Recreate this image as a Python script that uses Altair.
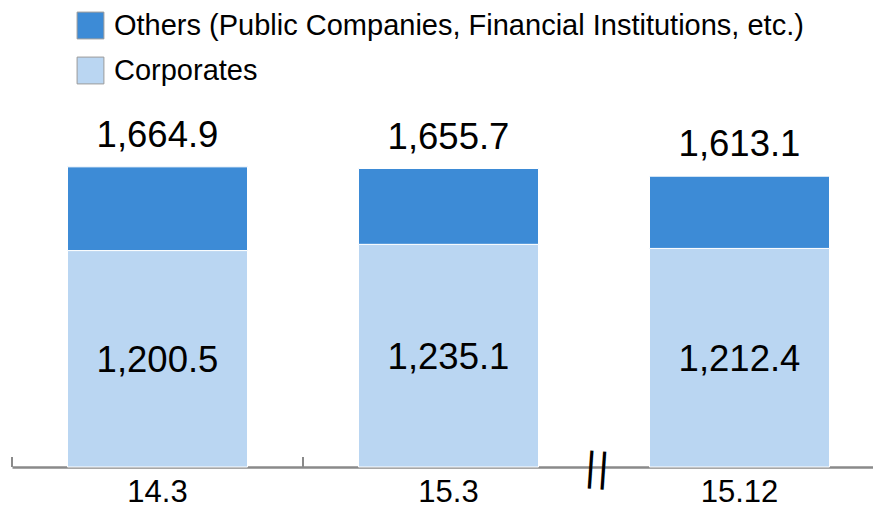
import altair as alt
import pandas as pd

categories = ["14.3", "15.3", "15.12"]
corporates = [1200.5, 1235.1, 1212.4]
totals = [1664.9, 1655.7, 1613.1]
others = [round(t - c, 1) for t, c in zip(totals, corporates)]
series_names = ["Others (Public Companies, Financial Institutions, etc.)", "Corporates"]
colors = ["#3D8BD6", "#BAD6F2"]

rows = []
for i, cat in enumerate(categories):
    rows.append({"cat": cat, "series": series_names[1], "value": corporates[i], "ord": 0})
    rows.append({"cat": cat, "series": series_names[0], "value": others[i], "ord": 1})
df = pd.DataFrame(rows)
df_tot = pd.DataFrame({"cat": categories, "total": totals})
df_corp = pd.DataFrame({"cat": categories, "value": corporates})
df_ticks = pd.DataFrame({"cat": categories[:2]})
df_break = pd.DataFrame({"cat": categories[2:]})

FONT = "Liberation Sans"
H = 459
xscale = alt.Scale(domain=categories, range=[0, 873], paddingInner=0, paddingOuter=0)
yscale = alt.Scale(domain=[0, 2546])

bars = alt.Chart(df).mark_bar(size=180, stroke="white", strokeWidth=1).encode(
    x=alt.X("cat:N", scale=xscale, sort=categories,
            axis=alt.Axis(title=None, ticks=False, labelAngle=0, labelFont=FONT,
                          labelFontSize=31, labelColor="#000", labelPadding=10,
                          domainColor="#8a8a8a", domainWidth=2.5)),
    y=alt.Y("value:Q", scale=yscale, stack="zero", axis=None),
    color=alt.Color("series:N", scale=alt.Scale(domain=series_names, range=colors),
                    legend=alt.Legend(title=None, orient="none", legendX=64, legendY=3,
                                      symbolType="square", symbolSize=720,
                                      symbolStrokeColor="#9a9a9a", symbolStrokeWidth=1,
                                      labelFont=FONT, labelFontSize=29, labelColor="#000",
                                      labelOffset=9, rowPadding=14, padding=0,
                                      labelLimit=900)),
    order=alt.Order("ord:Q"),
)

tot_text = alt.Chart(df_tot).mark_text(font=FONT, fontSize=36.5, color="#000",
                                       baseline="alphabetic", dy=-20).encode(
    x=alt.X("cat:N", scale=xscale, sort=categories),
    y=alt.Y("total:Q", scale=yscale),
    text=alt.Text("total:Q", format=",.1f"),
)

corp_text = alt.Chart(df_corp).transform_calculate(mid="datum.value / 2").mark_text(
    font=FONT, fontSize=36.5, color="#000", baseline="middle", dy=2).encode(
    x=alt.X("cat:N", scale=xscale, sort=categories),
    y=alt.Y("mid:Q", scale=yscale),
    text=alt.Text("value:Q", format=",.1f"),
)

ticks = alt.Chart(df_ticks).mark_rule(color="#8a8a8a", strokeWidth=2).encode(
    x=alt.X("cat:N", scale=xscale, sort=categories, bandPosition=0),
    y=alt.value(H - 10),
    y2=alt.value(H),
)

brk = alt.Chart(df_break).mark_text(text="||", font="DejaVu Sans", fontSize=38,
                                    color="#000", baseline="middle", angle=4, dx=3).encode(
    x=alt.X("cat:N", scale=xscale, sort=categories, bandPosition=0),
    y=alt.value(H + 2),
)

chart = alt.layer(bars, tot_text, corp_text, ticks, brk).properties(
    width=861, height=H,
    autosize=alt.AutoSizeParams(type="none"),
    padding={"left": 4, "top": 0, "right": 0, "bottom": 40},
).configure_view(stroke=None)

chart.save("out.html", embed_options={"renderer": "svg", "actions": False})
